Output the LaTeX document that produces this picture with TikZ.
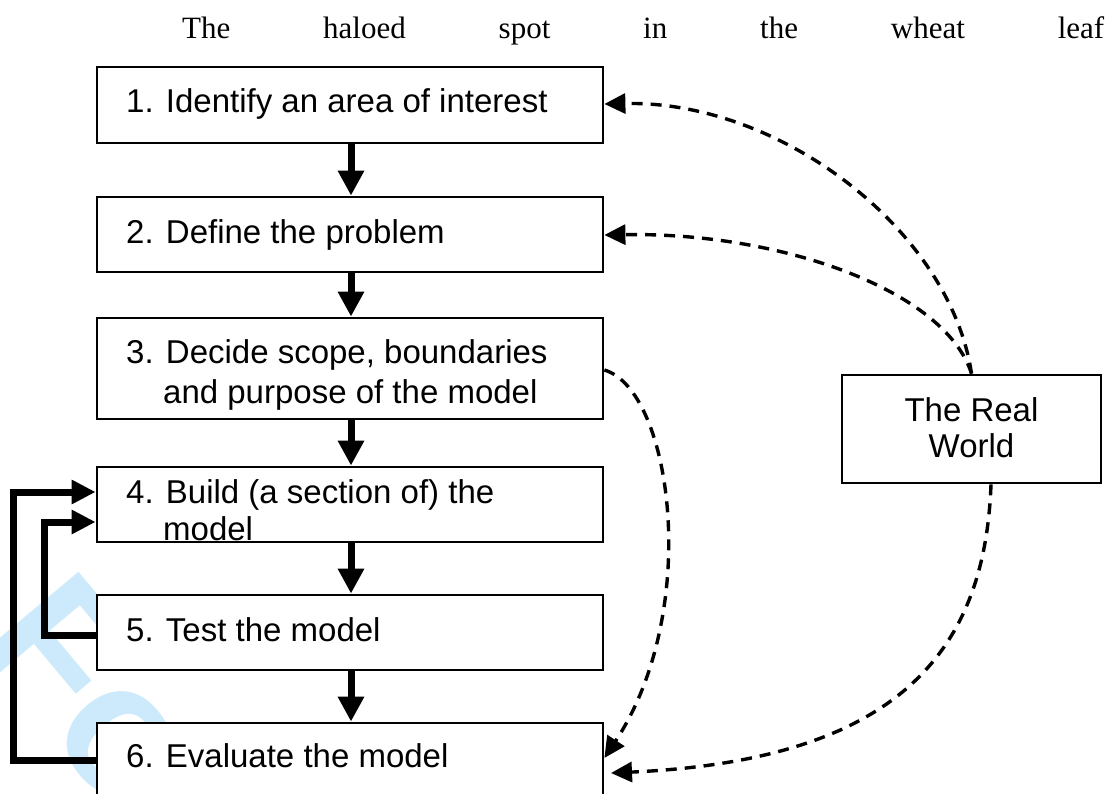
\documentclass[tikz,border=0pt]{standalone}
\usepackage{fontspec}
\setmainfont{Liberation Serif}
\newfontfamily\arialf{Liberation Sans}
\usetikzlibrary{arrows.meta}
\definecolor{wm}{RGB}{204,234,251}
\begin{document}
\begin{tikzpicture}[x=1pt,y=-1pt,
  box/.style={draw=black, line width=2.8pt, fill=white, inner sep=0pt, minimum width=506pt},
  lbl/.style={anchor=base west, inner sep=0pt, font=\arialf\fontsize{33}{38}\selectfont},
  flow/.style={line width=7pt, -{Triangle[length=25pt,width=25pt]}},
  back/.style={line width=7pt, line join=miter, -{Triangle[length=24pt,width=23pt]}},
  link/.style={line width=3.4pt, dash pattern=on 11pt off 8pt, -{Triangle[length=21pt,width=20pt]}}]
\useasboundingbox (0,0) rectangle (1117,794);
\begin{scope}
\clip (0,0) rectangle (1117,794);
% watermark
\node[rotate=-50, anchor=base west, inner sep=0pt, text=wm,
  font=\arialf\bfseries\fontsize{185}{185}\selectfont] (wmark) at (-26.9,644.5) {For Peer Review};
% title
\node[anchor=base west, inner sep=0pt, font=\fontsize{31}{36}\selectfont] (title) at (182,39)
  {\makebox[922pt][s]{The haloed spot in the wheat leaf}};
% boxes
\node[box, minimum height=76pt] (b1) at (350,105) {};
\node[box, minimum height=75pt] (b2) at (350,234.5) {};
\node[box, minimum height=101pt] (b3) at (350,368.5) {};
\node[box, minimum height=75pt] (b4) at (350,504.5) {};
\node[box, minimum height=75pt] (b5) at (350,632.5) {};
\node[box, minimum height=107pt] (b6) at (350,776.5) {};
\node[draw=black, line width=2.8pt, fill=white, inner sep=0pt,
  minimum width=259pt, minimum height=108pt] (rw) at (971.5,429) {};
% texts
\node[lbl] (t1) at (126,113) {1. Identify an area of interest};
\node[lbl] (t2) at (126,244) {2. Define the problem};
\node[lbl] (t3) at (126,363) {3. Decide scope, boundaries};
\node[lbl] (t3b) at (163,403) {and purpose of the model};
\node[lbl] (t4) at (126,503) {4. Build (a section of) the};
\node[lbl] (t4b) at (163,540) {model};
\node[lbl] (t5) at (126,641) {5. Test the model};
\node[lbl] (t6) at (126,767) {6. Evaluate the model};
\node[anchor=base, inner sep=0pt, font=\arialf\fontsize{33}{36}\selectfont] (rw1) at (971.5,421) {The Real};
\node[anchor=base, inner sep=0pt, font=\arialf\fontsize{33}{36}\selectfont] (rw2) at (971.5,457) {World};
% main flow
\draw[flow] (b1.south -| 351,0) -- (b2.north -| 351,0);
\draw[flow] (b2.south -| 351,0) -- (b3.north -| 351,0);
\draw[flow] (b3.south -| 351,0) -- (b4.north -| 351,0);
\draw[flow] (b4.south -| 351,0) -- (b5.north -| 351,0);
\draw[flow] (b5.south -| 351,0) -- (b6.north -| 351,0);
% feedback loops
\draw[back] (b6.west |- 0,760) -| (13,492) -- (b4.west |- 0,492);
\draw[back] (b5.west |- 0,635) -| (44,522) -- (b4.west |- 0,522);
% real world links
\coordinate (e6b) at (611,773);
\draw[link] (rw.north) .. controls (950,230) and (780,100) .. (b1.east |- 0,104);
\draw[link] (rw.north) .. controls (945,290) and (780,232) .. (b2.east |- 0,235);
\draw[link] (b3.east |- 0,370) .. controls (672,390) and (702,610) .. (b6.east |- 0,758);
\draw[link] (rw.south -| 991,0) .. controls (985,650) and (900,760) .. (e6b);
\end{scope}
\end{tikzpicture}
\end{document}
